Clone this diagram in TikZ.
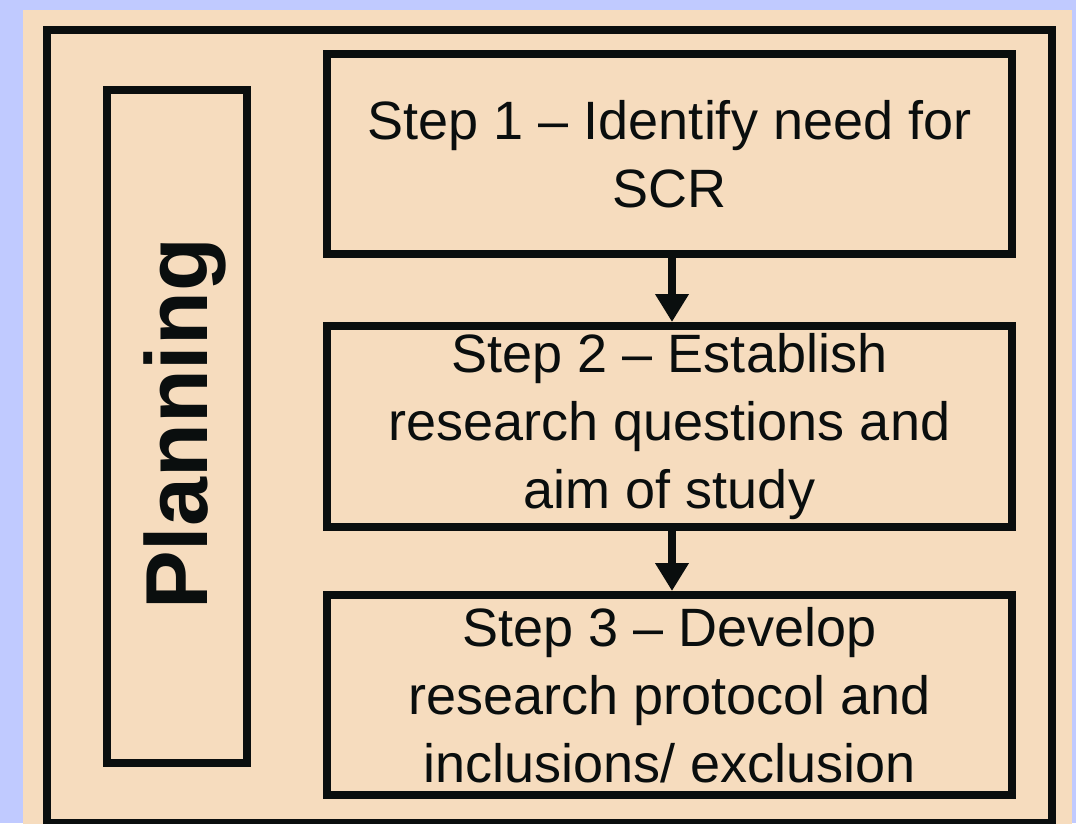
\documentclass[tikz,border=0pt]{standalone}
\usepackage{fontspec}
\setmainfont{Liberation Sans}
\usetikzlibrary{arrows.meta}
\definecolor{bgblue}{RGB}{192,202,255}
\definecolor{peach}{RGB}{246,220,190}
\definecolor{ink}{RGB}{10,14,14}
\tikzset{
  box/.style={draw=ink, line width=8pt, inner sep=0pt, minimum width=685pt, minimum height=200pt},
  steptext/.style={text=ink, align=center, font=\fontsize{54}{68}\selectfont},
  flow/.style={draw=ink, line width=8pt, -{Triangle[width=32pt,length=28pt]}}
}
\begin{document}
\begin{tikzpicture}[x=1pt,y=-1pt]
\useasboundingbox (0,0) rectangle (1076,823);
\fill[bgblue] (0,0) rectangle (1076,823);
\fill[peach] (23,10) rectangle (1072,830);
\node[draw=ink, line width=8pt, inner sep=0pt, minimum width=1005pt, minimum height=793pt] (frame) at (549.5,426.5) {};
\node[draw=ink, line width=8pt, inner sep=0pt, minimum width=140pt, minimum height=673pt] (planbox) at (177,426.5) {};
\node[text=ink, rotate=90, inner sep=0pt, font=\fontsize{88}{100}\selectfont\bfseries] (plan) at (185,424) {Planning};
\node[box] (s1) at (669.5,154) {};
\node[steptext] (t1) at (669.5,154) {Step 1 – Identify need for\\SCR};
\node[box, minimum height=201pt] (s2) at (669.5,426.5) {};
\node[steptext] (t2) at (669.5,426.5) {Step 2 – Establish\\research questions and\\aim of study};
\node[box] (s3) at (669.5,695) {};
\node[steptext] (t3) at (669.5,695) {Step 3 – Develop\\research protocol and\\inclusions/ exclusion};
\draw[flow] ([xshift=2.5pt]s1.south) -- ([xshift=2.5pt]s2.north);
\draw[flow] ([xshift=2.5pt]s2.south) -- ([xshift=2.5pt]s3.north);
\end{tikzpicture}
\end{document}
